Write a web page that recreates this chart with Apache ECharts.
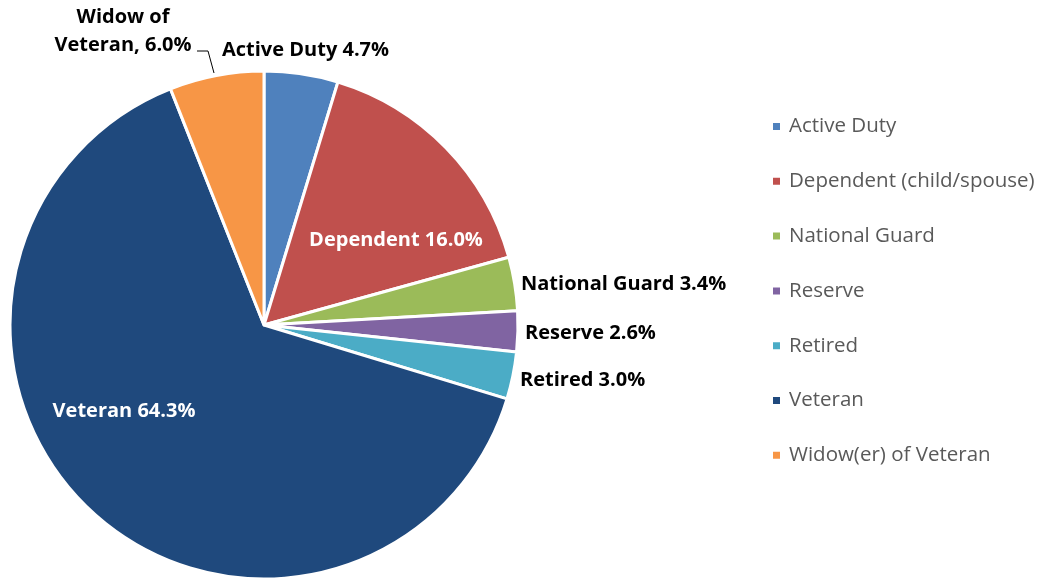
<!DOCTYPE html>
<html><head><meta charset="utf-8">
<script src="https://cdn.jsdelivr.net/npm/echarts@6/dist/echarts.min.js"></script>
<style>html,body{margin:0;padding:0;background:#fff}#c{width:1054px;height:580px}</style>
</head><body><div id="c"></div>
<script>
const categories = ['Active Duty','Dependent (child/spouse)','National Guard','Reserve','Retired','Veteran','Widow(er) of Veteran'];
const values = [4.7, 16.0, 3.4, 2.6, 3.0, 64.3, 6.0];
const labelTexts = ['Active Duty 4.7%','Dependent 16.0%','National Guard 3.4%','Reserve 2.6%','Retired 3.0%','Veteran 64.3%','Widow of\nVeteran, 6.0%'];
const colors = ['#4F81BD','#C0504D','#9BBB59','#8064A2','#4BACC6','#1F497D','#F79646'];

// label placement (layout only)
const labelPos = [
  {x:222, y:50, align:'left'},
  {x:396, y:240, align:'center'},
  {x:521, y:284, align:'left'},
  {x:525, y:333, align:'left'},
  {x:520, y:380, align:'left'},
  {x:124, y:411, align:'center'},
  {x:123, y:31, align:'center'}
];
const insideIdx = [1,5];

const chart = echarts.init(document.getElementById('c'));
chart.setOption({
  animation:false,
  color: colors,
  legend:{
    orient:'vertical', left:766, top:111,
    icon:'rect', itemWidth:9, itemHeight:9, itemGap:33.8,
    textStyle:{fontFamily:'Open Sans', fontSize:20.5, color:'#595959', lineHeight:20, padding:[0,0,0,3]},
    data: categories
  },
  series:[{
    type:'pie',
    center:[264,325], radius:[0,254],
    startAngle:90, clockwise:true,
    itemStyle:{borderColor:'#fff', borderWidth:3},
    label:{
      show:true, overflow:'none',
      fontFamily:'Open Sans', fontWeight:'bold', fontSize:20, color:'#000', lineHeight:28,
      formatter:p=>labelTexts[p.dataIndex]
    },
    labelLine:{show:true, lineStyle:{color:'#000', width:1}, length:10, length2:10},
    labelLayout:function(p){
      const lp = labelPos[p.dataIndex];
      const o = {x:lp.x, y:lp.y, align:lp.align, verticalAlign:'middle'};
      if (p.dataIndex===6) {
        o.labelLinePoints = [[214,73],[208,51],[197,51]];
      } else {
        o.labelLinePoints = [[0,0],[0,0],[0,0]];
      }
      return o;
    },
    data: categories.map((c,i)=>({
      name:c, value:values[i],
      label: insideIdx.includes(i) ? {color:'#fff'} : {},
      labelLine: {show: i===6}
    }))
  }]
});
</script></body></html>
